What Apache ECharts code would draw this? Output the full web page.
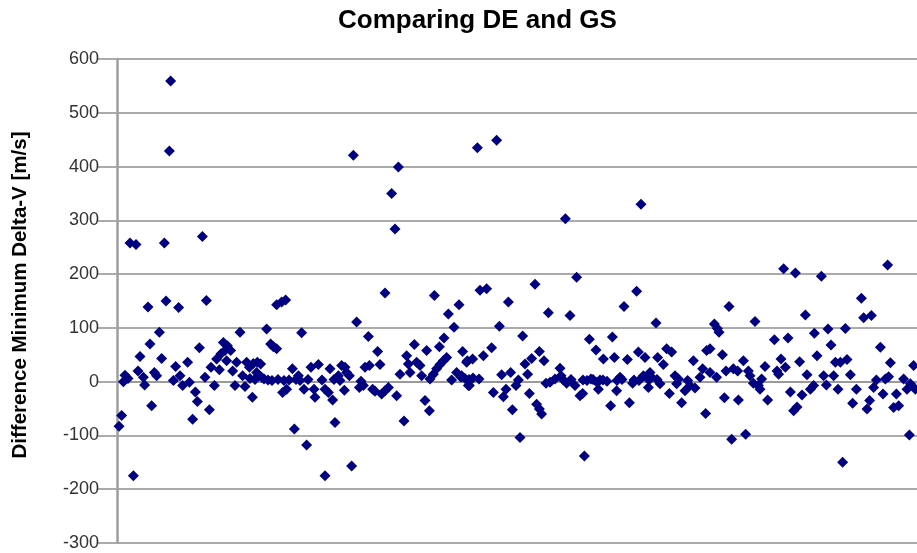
<!DOCTYPE html>
<html>
<head>
<meta charset="utf-8">
<title>Comparing DE and GS</title>
<script src="https://cdn.jsdelivr.net/npm/echarts@6/dist/echarts.min.js"></script>
<style>
  html, body { margin: 0; padding: 0; background: #ffffff; }
  #chart { width: 917px; height: 553px; }
</style>
</head>
<body>
<div id="chart"></div>
<script>
// Test case position along the run (x) and the difference in minimum delta-V
// between the DE and GS optimisers for that case (y, m/s).
const caseIndex = [
  1, 2.3, 3.2, 4, 5.5, 6.5, 8.2, 9.5, 10.5, 11.5, 13.2, 13.8, 15.5, 16.5, 17.3, 18.7, 19.8,
  21.2, 22.3, 23.7, 24.5, 26.2, 26.8, 28.2, 29.3, 30.8, 31.5, 32.8, 35.3, 36.2, 37.8, 39.2,
  40.2, 41.2, 42.7, 44, 44.7, 46.2, 47, 48.7, 49.8, 51.2, 52, 53.2, 54, 54.8, 55.2, 56.8,
  57.8, 59, 59.8, 61.5, 62.8, 64, 64.8, 66.2, 67.7, 68.2, 69.8, 70.2, 70.7, 71.8, 72.3,
  73.5, 74.8, 75.5, 76.8, 77.5, 78.2, 79.8, 79.8, 80.5, 82.3, 82.8, 83.5, 84.3, 84.8, 86,
  87.7, 88.7, 90.7, 92.3, 93.5, 94.8, 97, 99, 100.7,
  66.5, 69, 89.5, 91.5, 95.5, 102.5, 108.5,
  98.5, 104, 105.7, 106.5, 107.8, 109, 104, 110.7, 111.5, 112.3, 113.7, 114, 114.8, 116.2,
  117.3, 118.2, 119.8, 121.2, 122, 123.2, 124, 125.7, 126.2, 127.8, 129, 130.3, 131.5, 132.3,
  134, 134, 135.7, 137.3, 139, 139.8, 140.7, 141.5, 143.5, 144.8, 145.7, 146.5, 148.7, 149.8,
  151.5, 152.3, 154, 154.8, 156.2, 156.5, 158.2, 158.7, 159.8, 161.2, 161.5, 163.2, 163.5,
  164.8, 165.7, 167.3, 168.5, 169.8, 171, 172.3, 172.8, 174.8, 175.7,
  172, 174, 175.2, 176, 176.2, 177.8, 178, 180.2, 181, 181.5, 183.2, 184.8, 187.3, 188.2,
  189.8, 191.2, 192.3, 193.2, 194.5, 195.7, 196.8, 197.7, 199.5, 200.7, 201.5, 202.8, 204,
  205.3, 206.2, 207.3, 209, 209.8, 211.2, 211.2, 212.3, 213.5, 214.5, 215.7, 216.5, 219,
  221.5, 222, 223.2, 224.2, 224.8, 226.5, 229, 229.8, 231.5, 232.8, 233.7, 235, 236.2, 238,
  239.5, 240, 240.7, 243, 243.2, 245, 246.8, 247.7, 248.7, 249.8,
  227, 233, 237, 241.5, 250, 252.5, 258.5, 261, 266, 270,
  251.5, 253.5, 255.2, 256.2, 257.8, 259.8, 260.7, 262, 263.2, 264, 265.7, 266.5, 267.3,
  269.5, 270.3, 271.5, 273.2, 274.8, 276.2, 277.3, 279, 279.8, 280.7, 282.3, 284, 285.3,
  286.5, 288.2, 289, 291.5, 292.8, 294.3, 294.8, 296.5, 296.5, 298.7, 299.8, 300.2, 301,
  302.7, 303.7, 304.5, 306, 307.3, 308.2, 310.3, 310.7, 313.2, 314.3, 315.7, 316.5, 318.2,
  319, 320.7, 321.5, 322.3, 324, 325.3,
  328.7, 330, 330.8, 332, 333.3, 334.2, 335.5, 336.7, 338.3, 339.2, 340, 341.3, 342.5,
  344.2, 345, 346.7, 348.3, 348.7, 350, 352.2, 353.3, 354.7, 355.5, 357, 358.3, 359.2,
  360.5, 361.7, 362.8, 364.2, 365, 366.7, 367.8, 369.7, 372.2, 373.3, 375, 376.3, 377.2,
  378.3, 379.7, 381.7, 383, 384.2, 385.3, 385.8, 386.7, 388.3, 389.7, 390.8, 393.3, 395,
  396.2, 396.7, 398.3, 399.2
];

const deltaVDiff = [
  -83, -63, 0, 12, 6, 258, -175, 255, 20, 47, 8, -6, 139, 70, -45, 17, 11,
  92, 43, 258, 150, 429, 559, 2, 28, 138, 11, -7, 36, -1, -70, -19,
  -37, 63, 270, 8, 151, -52, 27, -7, 42, 22, 52, 73, 58, 39, 67, 58,
  20, -7, 36, 92, 11, -9, 36, 27, -29, 34, 17, 36, 11, 33, 8,
  5, 98, 3, 70, 2, 65, 61, 143, 4, 148, -20, 2, 152, -14, 3,
  24, -88, 11, 91, -14, -118, 27, -29, 32,
  6, 4, 4, 2, 4, 3, 4,
  -14, -14, -20, 24, -34, -76, -175, 11, 2, 30, -16, 27, 17, 11,
  -157, 421, 111, -11, 1, -7, 27, 84, 30, -14, -18, 56, 32, -23,
  165, -17, -11, 350, 284, -26, 399, 14, -73, 48, 33, 17, 69, 36,
  30, 11, -35, 58, -54, 5, 14, 160, 24, 65, 32, 39, 81,
  45, 126, 3, 101, 17, 143, 11, 56, 36, -7,
  8, 6, 39, 4, -7, 42, 7, 435, 5, 170, 48, 173, 63, -20,
  449, 103, 13, -28, -14, 148, 17, -52, -7, 3, -104, 85, 33,
  14, -22, 43, 181, -42, 56, -51, -60, 39, -3, 128, -1, 5,
  25, 11, 3, 303, -3, 123, -7, 194, -26, -22, -138, 2, 79, 4,
  59, -1, -14, 3, 42, 1, -45, 83, 45, -17,
  4, 3, 5, 3, 2, 4, 3, 2, 3, 4,
  8, 140, 41, -39, -3, 168, 55, 330, 11, 45, -11, 17, 8,
  109, 45, -4, 32, 61, -22, 55, 11, -4, 5, -39, -17, 2,
  -7, 39, -12, 8, 24, -59, 58, 61, 17, 107, 8, 99, 92,
  50, -30, 20, 140, -107, 24, 20, -34, 39, -98, 20, 11, -3,
  112, -7, -14, 5, 28, -34,
  78, 20, 14, 42, 210, 27, 81, -19, -54, 202, -47, 37, -25,
  124, 13, -14, -7, 90, 48, 196, 11, -6, 98, 68, 11, 36,
  -14, 36, -150, 99, 41, 13, -40, -14, 155, 119, -51, -35, 123,
  -11, 3, 64, -23, 5, 217, 9, 35, -48, -23, -45, 5, -14,
  -99, -4, 30, -14
];

const yTicks = { min: -300, max: 600, step: 100 };

const points = caseIndex.map((x, i) => [x, deltaVDiff[i]]);

const chart = echarts.init(document.getElementById('chart'), null, { renderer: 'canvas' });

const gridGray = '#ababab';

chart.setOption({
  animation: false,
  backgroundColor: '#ffffff',
  title: {
    text: 'Comparing DE and GS',
    left: 333,
    top: 3,
    textStyle: {
      fontFamily: 'Liberation Sans, Arial, sans-serif',
      fontWeight: 'bold',
      fontSize: 26,
      color: '#000000'
    }
  },
  grid: { left: 117, right: 0, top: 59, bottom: 10, containLabel: false },
  xAxis: {
    type: 'value',
    min: 0,
    max: 400,
    axisLine: { show: true, onZero: true, lineStyle: { color: '#9a9a9a', width: 2 } },
    axisTick: { show: false },
    axisLabel: { show: false },
    splitLine: { show: false }
  },
  yAxis: {
    type: 'value',
    min: yTicks.min,
    max: yTicks.max,
    interval: yTicks.step,
    name: 'Difference Minimum Delta-V [m/s]',
    nameLocation: 'middle',
    nameGap: 86,
    nameTextStyle: {
      fontFamily: 'Liberation Sans, Arial, sans-serif',
      fontWeight: 'bold',
      fontSize: 20.5,
      color: '#000000',
      padding: [0, 0, 0, 12]
    },
    axisLine: { show: true, onZero: false, lineStyle: { color: '#9e9e9e', width: 2.5 } },
    axisTick: { show: true, inside: false, length: 20, lineStyle: { color: gridGray, width: 2 } },
    axisLabel: {
      margin: 18,
      fontFamily: 'Liberation Sans, Arial, sans-serif',
      fontSize: 18,
      color: '#333333'
    },
    splitLine: { show: true, lineStyle: { color: gridGray, width: 2 } }
  },
  series: [{
    type: 'scatter',
    data: points,
    symbol: 'diamond',
    symbolSize: 11,
    itemStyle: { color: '#000080', opacity: 1 },
    z: 5
  }]
});
</script>
</body>
</html>
